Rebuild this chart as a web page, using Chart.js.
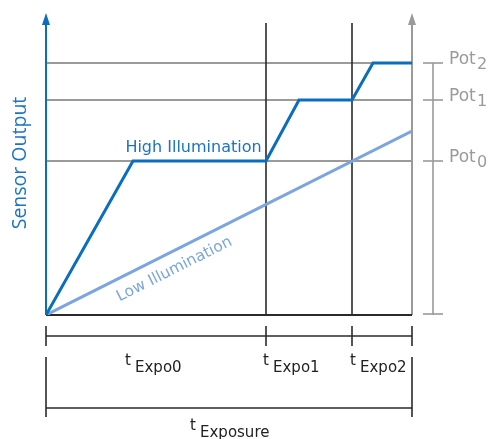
<!DOCTYPE html>
<html>
<head>
<meta charset="utf-8">
<script src="https://cdn.jsdelivr.net/npm/chart.js@4.4.1/dist/chart.umd.min.js"></script>
<style>
html,body{margin:0;padding:0;background:#fff;}
#wrap{width:492px;height:439px;position:relative;}
</style>
</head>
<body>
<div id="wrap"><canvas id="c" width="492" height="439"></canvas></div>
<script>
// ---- data (arbitrary units) ----
const expoTimes = [0, 220, 306, 366];          // start, tExpo1, tExpo2, end of exposure
const expoLabels = ['Expo0', 'Expo1', 'Expo2'];
const exposureLabel = 'Exposure';
const potLevels = [154, 215, 252];             // Pot0, Pot1, Pot2
const potLabels = ['0', '1', '2'];
const highX = [0, 87, 220, 253, 306, 327, 366];
const highY = [0, 154, 154, 215, 215, 252, 252];
const lowX = [0, 366];
const lowY = [0, 184];
const yMax = 303;
const markerTop = 292;                          // top of the tExpo marker lines

const BLUE = '#0a6ebd';
const TEXT_BLUE = '#1b74c2';
const LIGHT_BLUE = '#7ba5dc';
const GRAY = '#9a9a9a';
const DARK = '#2a2a2a';

const toPts = (xs, ys) => xs.map((x, i) => ({x, y: ys[i]}));

const diagramPlugin = {
  id: 'diagram',
  beforeDatasetsDraw(chart) {
    const {ctx, scales: {x, y}} = chart;
    const x0 = x.getPixelForValue(expoTimes[0]);
    const xEnd = x.getPixelForValue(expoTimes[3]);
    const yb = y.getPixelForValue(0);
    ctx.save();
    // Pot horizontal lines
    ctx.strokeStyle = GRAY; ctx.lineWidth = 2;
    potLevels.forEach(p => {
      const py = Math.round(y.getPixelForValue(p));
      ctx.beginPath(); ctx.moveTo(x0, py); ctx.lineTo(xEnd, py); ctx.stroke();
    });
    // tExpo markers
    ctx.strokeStyle = DARK; ctx.lineWidth = 1.6;
    [expoTimes[1], expoTimes[2]].forEach(t => {
      const px = x.getPixelForValue(t);
      ctx.beginPath(); ctx.moveTo(px, y.getPixelForValue(markerTop)); ctx.lineTo(px, yb); ctx.stroke();
    });
    // right gray axis with arrow
    const yTop = y.getPixelForValue(yMax) + 1;
    ctx.strokeStyle = GRAY; ctx.fillStyle = GRAY; ctx.lineWidth = 2;
    ctx.beginPath(); ctx.moveTo(xEnd, yb); ctx.lineTo(xEnd, yTop + 8); ctx.stroke();
    ctx.beginPath(); ctx.moveTo(xEnd, yTop); ctx.lineTo(xEnd - 4, yTop + 12); ctx.lineTo(xEnd + 4, yTop + 12); ctx.closePath(); ctx.fill();
    // bottom axis
    ctx.strokeStyle = DARK; ctx.lineWidth = 2;
    ctx.beginPath(); ctx.moveTo(x0, yb); ctx.lineTo(xEnd, yb); ctx.stroke();
    // left blue axis with arrow
    ctx.strokeStyle = BLUE; ctx.fillStyle = BLUE; ctx.lineWidth = 2;
    ctx.beginPath(); ctx.moveTo(x0, yb); ctx.lineTo(x0, yTop + 8); ctx.stroke();
    ctx.beginPath(); ctx.moveTo(x0, yTop); ctx.lineTo(x0 - 4, yTop + 12); ctx.lineTo(x0 + 4, yTop + 12); ctx.closePath(); ctx.fill();
    // Pot bracket on the right
    const bx = xEnd + 21;
    ctx.strokeStyle = GRAY; ctx.lineWidth = 1.6;
    const topPot = y.getPixelForValue(potLevels[potLevels.length - 1]);
    ctx.beginPath(); ctx.moveTo(bx, topPot); ctx.lineTo(bx, yb); ctx.stroke();
    [...potLevels.map(p => y.getPixelForValue(p)), yb - 1].forEach(py => {
      ctx.beginPath(); ctx.moveTo(bx - 10, py); ctx.lineTo(bx + 10, py); ctx.stroke();
    });
    ctx.restore();
  },
  afterDraw(chart) {
    const {ctx, scales: {x, y}} = chart;
    const yb = y.getPixelForValue(0);
    const px = v => x.getPixelForValue(v);
    ctx.save();
    // dimension lines
    ctx.strokeStyle = DARK; ctx.lineWidth = 1.6;
    const d1 = yb + 21, d2 = yb + 93;
    ctx.beginPath(); ctx.moveTo(px(expoTimes[0]), d1); ctx.lineTo(px(expoTimes[3]), d1); ctx.stroke();
    expoTimes.forEach(t => {
      ctx.beginPath(); ctx.moveTo(px(t), d1 - 10); ctx.lineTo(px(t), d1 + 10); ctx.stroke();
    });
    ctx.beginPath(); ctx.moveTo(px(expoTimes[0]), d2); ctx.lineTo(px(expoTimes[3]), d2); ctx.stroke();
    [expoTimes[0], expoTimes[3]].forEach(t => {
      ctx.beginPath(); ctx.moveTo(px(t), d2 - 51); ctx.lineTo(px(t), d2 + 9); ctx.stroke();
    });
    // t labels
    ctx.fillStyle = '#222';
    ctx.textAlign = 'left'; ctx.textBaseline = 'alphabetic';
    const tLabel = (lx, by, sub) => {
      ctx.font = '15px "DejaVu Sans"';
      ctx.fillText('t', lx, by);
      ctx.fillText(sub, lx + 10, by + 7);
    };
    tLabel((px(expoTimes[0]) + px(expoTimes[1])) / 2 - 31, yb + 50, expoLabels[0]);
    tLabel(px(expoTimes[1]) - 3, yb + 50, expoLabels[1]);
    tLabel(px(expoTimes[2]) - 2, yb + 50, expoLabels[2]);
    tLabel((px(expoTimes[0]) + px(expoTimes[3])) / 2 - 39, yb + 115, exposureLabel);
    // Pot labels
    ctx.fillStyle = GRAY;
    potLevels.forEach((p, i) => {
      const py = y.getPixelForValue(p);
      const lx = px(expoTimes[3]) + 37;
      ctx.font = '17px "DejaVu Sans"';
      ctx.fillText('Pot', lx, py + 1);
      ctx.font = '16px "DejaVu Sans"';
      ctx.fillText(potLabels[i], lx + 28, py + 6);
    });
    // High Illumination label
    ctx.fillStyle = TEXT_BLUE;
    ctx.font = '16px "DejaVu Sans"';
    ctx.textAlign = 'center';
    ctx.fillText('High Illumination', (px(highX[1]) + px(highX[2])) / 2 - 6, y.getPixelForValue(highY[1]) - 9);
    // Low Illumination label along the line
    const lx0 = px(lowX[0]), ly0 = y.getPixelForValue(lowY[0]);
    const lx1 = px(lowX[1]), ly1 = y.getPixelForValue(lowY[1]);
    const ang = Math.atan2(ly1 - ly0, lx1 - lx0);
    const f = 0.33;
    const cx = lx0 + (lx1 - lx0) * f, cy = ly0 + (ly1 - ly0) * f;
    ctx.save();
    ctx.translate(cx, cy);
    ctx.rotate(ang);
    ctx.fillStyle = LIGHT_BLUE;
    ctx.font = '15.5px "DejaVu Sans"';
    ctx.textAlign = 'center'; ctx.textBaseline = 'middle';
    ctx.fillText('Low Illumination', 0, 17);
    ctx.restore();
    // Sensor Output
    ctx.save();
    ctx.translate(20, 163);
    ctx.rotate(-Math.PI / 2);
    ctx.fillStyle = TEXT_BLUE;
    ctx.font = '19.5px "Open Sans"';
    ctx.textAlign = 'center'; ctx.textBaseline = 'middle';
    ctx.fillText('Sensor Output', 0, 0);
    ctx.restore();
    ctx.restore();
  }
};

new Chart(document.getElementById('c'), {
  type: 'line',
  data: {
    datasets: [
      { label: 'High Illumination', data: toPts(highX, highY), borderColor: BLUE, borderWidth: 3, pointRadius: 0, tension: 0, fill: false },
      { label: 'Low Illumination', data: toPts(lowX, lowY), borderColor: LIGHT_BLUE, borderWidth: 3, pointRadius: 0, tension: 0, fill: false }
    ]
  },
  options: {
    responsive: false,
    animation: false,
    events: [],
    layout: { padding: { left: 46, right: 80, top: 12, bottom: 124 } },
    scales: {
      x: { type: 'linear', min: 0, max: 366, display: false },
      y: { type: 'linear', min: 0, max: yMax, display: false }
    },
    plugins: { legend: { display: false }, tooltip: { enabled: false } }
  },
  plugins: [diagramPlugin]
});
</script>
</body>
</html>
